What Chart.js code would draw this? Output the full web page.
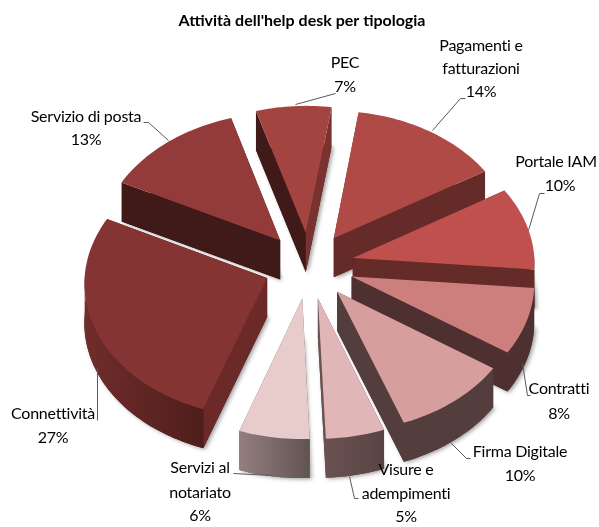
<!DOCTYPE html>
<html><head><meta charset="utf-8">
<style>html,body{margin:0;padding:0;background:#fff}#w{width:599px;height:527px}</style>
<script src="https://cdn.jsdelivr.net/npm/chart.js@4"></script>
</head><body><div id="w"><canvas id="c" width="599" height="527"></canvas></div>
<script>
const categories = ['Pagamenti e fatturazioni','Portale IAM','Contratti','Firma Digitale','Visure e adempimenti','Servizi al notariato','Connettività',"Servizio di posta",'PEC'];
const shares = [14,10,8,10,5,6,27,13,7];
const chartTitle = "Attività dell'help desk per tipologia";

const topColors = ['#b04a47','#bf504d','#cd7f7e','#d69e9d','#e0b7b6','#e8cccc','#843433','#933b3a','#a44441'];
const wallFrom = ['#652b29','#4d1e1c','#4f3030','#533d3d','#6b5252','#947f7f','#6f2d2b','#3f1a18','#401a18'];
const wallTo   = ['#652b29','#4d1e1c','#4f3030','#533d3d','#584343','#625353','#4f1e1c','#3f1a18','#401a18'];
const cutLeft  = ['#652b29','#4d1e1c','#4f3030','#4e3636','#584343','#625353','#6b2a28','#3f1a18','#401a18'];
const cutRight = ['#652b29','#652b29','#4f3030','#533d3d','#6b5252','#625353','#6b2a28','#3f1a18','#7a3230'];

// label layout: centre x and line centre y's, plus the leader polyline
const labelLayout = [
 {lines:['Pagamenti e','fatturazioni'],x:481,ys:[46,69,92],lead:[[432,130],[460,98],[465,98]]},
 {lines:['Portale IAM'],x:556,ys:[162,186],pctX:560,lead:[[528,230],[539,193],[544,193]]},
 {lines:['Contratti'],x:559,ys:[389,414],lead:[[522,363],[527,395],[530,395]]},
 {lines:['Firma Digitale'],x:520,ys:[452,476],lead:[[450,442],[466,458],[470,458]]},
 {lines:['Visure e','adempimenti'],x:406,ys:[470,494,517],lead:[[349,476],[354,498],[358,498]]},
 {lines:['Servizi al','notariato'],x:200,ys:[468,493,516],lead:[[272,475],[233,473]]},
 {lines:['Connettività'],x:53,ys:[414,438],lead:[[97,367],[97,420]]},
 {lines:['Servizio di posta'],x:86,ys:[117,140],lead:[[168,140],[148,122],[143,122]]},
 {lines:['PEC'],x:345,ys:[63,87],lead:[[295,104],[335,93]]}
];

const explode = 45, depth = 39, cxShift = 7, xPerspective = 0.0002;

const pie3d = {
  id:'pie3d',
  beforeDatasetDraw(chart){
    const ctx = chart.ctx, arcs = chart.getDatasetMeta(0).data;
    const cx0 = arcs[0].x + cxShift, cy0 = arcs[0].y;
    const P = (X,Y,Z)=>[cx0+X*(1+xPerspective*Y), cy0+Y*(0.735+0.03*Y/220)+Z];
    const order = arcs.map((a,i)=>i).sort((i,j)=>{
      const m=a=>(a.startAngle+a.endAngle)/2;
      return Math.sin(m(arcs[i]))-Math.sin(m(arcs[j]));
    });
    const quad=(pts,fill)=>{
      ctx.beginPath();pts.forEach((p,k)=>k?ctx.lineTo(p[0],p[1]):ctx.moveTo(p[0],p[1]));
      ctx.closePath();ctx.fillStyle=fill;ctx.fill();
    };
    order.forEach(i=>{
      const a=arcs[i], s=a.startAngle, e=a.endAngle, R=a.outerRadius, mid=(s+e)/2;
      const ox=Math.cos(mid)*explode, oy=Math.sin(mid)*explode;
      const n=Math.max(4,Math.round((e-s)*40));
      const rim=[];
      for(let k=0;k<=n;k++){const t=s+(e-s)*k/n;rim.push({t,x:ox+Math.cos(t)*R,y:oy+Math.sin(t)*R});}
      const outline=z=>[P(ox,oy,z),...rim.map(p=>P(p.x,p.y,z))];
      ctx.save();
      ctx.shadowColor='rgba(0,0,0,0.4)';ctx.shadowBlur=4;ctx.shadowOffsetX=2;ctx.shadowOffsetY=1;
      quad(outline(depth),wallTo[i]);
      ctx.restore();
      const A=P(ox,oy,0),A2=P(ox,oy,depth);
      const S=P(rim[0].x,rim[0].y,0),S2=P(rim[0].x,rim[0].y,depth);
      const E=P(rim[n].x,rim[n].y,0),E2=P(rim[n].x,rim[n].y,depth);
      quad([A,S,S2,A2],cutLeft[i]);
      quad([A,E,E2,A2],cutRight[i]);
      // outer wall: one polygon over the part of the rim that faces the viewer
      const front=rim.filter(p=>Math.sin(p.t)>-0.02);
      if(front.length>1){
        const upper=front.map(p=>P(p.x,p.y,0));
        const lower=front.map(p=>P(p.x,p.y,depth)).reverse();
        const xs=upper.map(p=>p[0]);
        const g=ctx.createLinearGradient(Math.min(...xs),0,Math.max(...xs),0);
        g.addColorStop(0,wallFrom[i]);g.addColorStop(1,wallTo[i]);
        quad([...upper,...lower],g);
      }
      quad(outline(0),a.options.backgroundColor);
    });
    ctx.save();
    ctx.strokeStyle='#595959';ctx.lineWidth=1;
    labelLayout.forEach(l=>{
      ctx.beginPath();l.lead.forEach((p,k)=>k?ctx.lineTo(p[0]+.5,p[1]+.5):ctx.moveTo(p[0]+.5,p[1]+.5));ctx.stroke();
    });
    ctx.fillStyle='#000';ctx.textAlign='center';ctx.textBaseline='middle';
    ctx.font='16px Lato';ctx.letterSpacing='-0.25px';
    const total=shares.reduce((u,v)=>u+v,0);
    labelLayout.forEach((l,i)=>{
      l.lines.forEach((t,k)=>ctx.fillText(t,l.x,l.ys[k]));
      ctx.fillText(Math.round(shares[i]/total*100)+'%',l.pctX||l.x,l.ys[l.lines.length]);
    });
    ctx.restore();
    return false;
  }
};

new Chart(document.getElementById('c'),{
  type:'pie',
  data:{labels:categories,datasets:[{data:shares,backgroundColor:topColors,borderWidth:0}]},
  plugins:[pie3d],
  options:{
    responsive:false,animation:false,rotation:8.5,
    layout:{padding:{left:120,right:115,top:0,bottom:29}},
    plugins:{
      legend:{display:false},tooltip:{enabled:false},
      title:{display:true,text:chartTitle,color:'#000',font:{family:'Lato',size:16,weight:'bold'},padding:{top:11,bottom:3}}
    }
  }
});
</script></body></html>
